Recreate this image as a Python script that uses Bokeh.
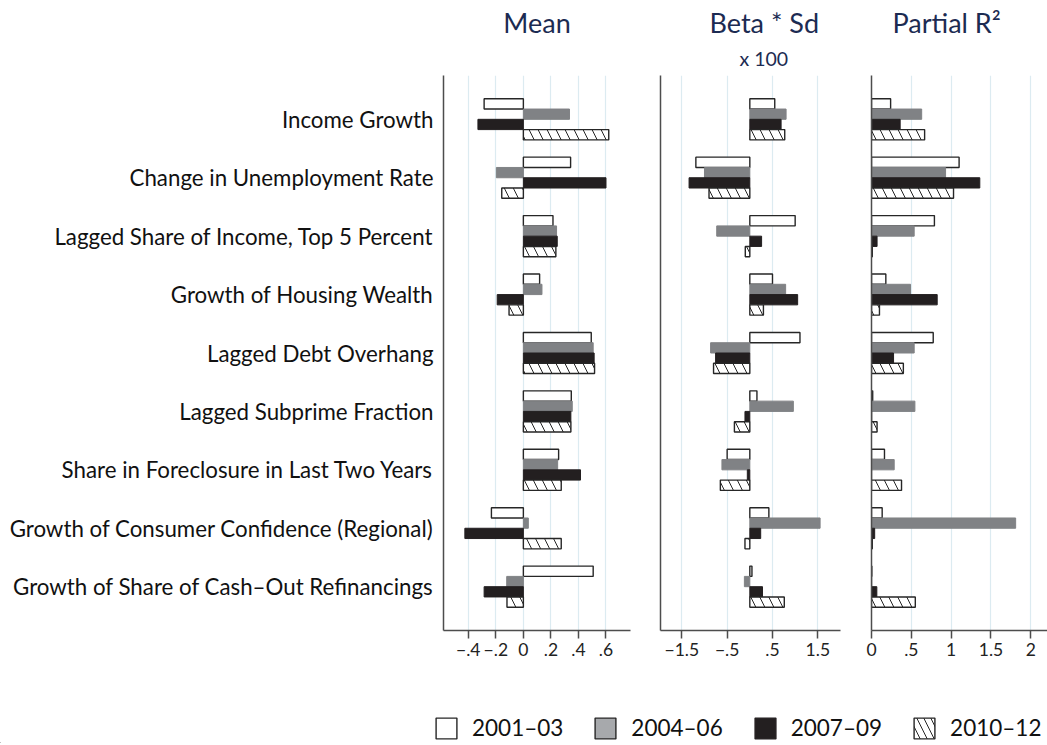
from bokeh.plotting import figure
from bokeh.layouts import column, row
from bokeh.models import (ColumnDataSource, FactorRange, Range1d, FixedTicker,
                          Title, Legend, LegendItem)
from bokeh.transform import dodge
from bokeh.embed import file_html
from bokeh.resources import INLINE

# ---------------- data ----------------
categories = [
    "Income Growth",
    "Change in Unemployment Rate",
    "Lagged Share of Income, Top 5 Percent",
    "Growth of Housing Wealth",
    "Lagged Debt Overhang",
    "Lagged Subprime Fraction",
    "Share in Foreclosure in Last Two Years",
    "Growth of Consumer Confidence (Regional)",
    "Growth of Share of Cash\u2013Out Refinancings",
]
periods = ["2001\u201303", "2004\u201306", "2007\u201309", "2010\u201312"]

mean_2001 = [-0.285, 0.343, 0.215, 0.118, 0.493, 0.348, 0.256, -0.232, 0.507]
mean_2004 = [0.335, -0.196, 0.241, 0.135, 0.507, 0.355, 0.249, 0.036, -0.121]
mean_2007 = [-0.330, 0.600, 0.246, -0.190, 0.514, 0.345, 0.415, -0.425, -0.285]
mean_2010 = [0.620, -0.157, 0.236, -0.104, 0.517, 0.345, 0.275, 0.275, -0.119]

beta_2001 = [0.55, -1.19, 1.00, 0.50, 1.106, 0.157, -0.50, 0.42, 0.047]
beta_2004 = [0.80, -1.00, -0.73, 0.79, -0.865, 0.96, -0.615, 1.55, -0.12]
beta_2007 = [0.69, -1.34, 0.26, 1.055, -0.755, -0.107, -0.055, 0.24, 0.28]
beta_2010 = [0.77, -0.90, -0.10, 0.30, -0.80, -0.34, -0.65, -0.107, 0.76]

r2_2001 = [0.24, 1.10, 0.79, 0.18, 0.775, 0.015, 0.163, 0.134, 0.004]
r2_2004 = [0.63, 0.93, 0.536, 0.49, 0.536, 0.545, 0.285, 1.81, 0.004]
r2_2007 = [0.36, 1.36, 0.07, 0.825, 0.277, 0.003, 0.002, 0.04, 0.067]
r2_2010 = [0.667, 1.03, 0.01, 0.10, 0.40, 0.07, 0.377, 0.01, 0.55]

mean_ticks = [-0.4, -0.2, 0, 0.2, 0.4, 0.6]
mean_tick_labels = ["\u2212.4", "\u2212.2", "0", ".2", ".4", ".6"]
beta_ticks = [-1.5, -0.5, 0.5, 1.5]
beta_tick_labels = ["\u22121.5", "\u2212.5", ".5", "1.5"]
r2_ticks = [0, 0.5, 1, 1.5, 2]
r2_tick_labels = ["0", ".5", "1", "1.5", "2"]

# ---------------- styles ----------------
FONT = "Lato"
TITLE_COLOR = "#1c2b52"
styles = [
    dict(fill_color="white", line_color="#262626", line_width=1.4),
    dict(fill_color="#808285", line_color="#808285", line_width=1),
    dict(fill_color="#231f20", line_color="#231f20", line_width=1),
    dict(fill_color="white", line_color="#262626", line_width=1.4,
         hatch_pattern="left_diagonal_line", hatch_color="#262626",
         hatch_scale=18, hatch_weight=1),
]
offsets = [0.264, 0.088, -0.088, -0.264]
BAR_H = 0.176
FIG_H = 680


def title_model(text, size, standoff, left_offset):
    kw = dict(text=text, text_font=FONT, text_font_size=size, text_font_style="normal",
              text_color=TITLE_COLOR, standoff=standoff)
    if left_offset is None:
        kw["align"] = "center"
    else:
        kw["align"] = "left"
        kw["offset"] = left_offset
    return Title(**kw)


def panel(series, xr, ticks, tick_labels, width, bl, br, title, title_left,
          sub, sub_left, show_cats):
    src = ColumnDataSource(dict(cat=categories, **{f"s{i}": s for i, s in enumerate(series)}))
    p = figure(y_range=FactorRange(factors=list(reversed(categories)),
                                   range_padding=0.25, range_padding_units="absolute"),
               x_range=Range1d(*xr), width=width, height=FIG_H,
               output_backend="svg", toolbar_location=None,
               min_border_left=bl, min_border_right=br,
               min_border_top=75, min_border_bottom=50)
    p.outline_line_color = None
    p.background_fill_color = "white"
    p.border_fill_color = "white"
    for i in range(4):
        p.hbar(y=dodge("cat", offsets[i], range=p.y_range), left=0, right=f"s{i}",
               height=BAR_H, source=src, **styles[i])
    # x axis
    p.xaxis.ticker = FixedTicker(ticks=ticks)
    p.xaxis.major_label_overrides = {t: l for t, l in zip(ticks, tick_labels)}
    p.xaxis.major_label_text_font = FONT
    p.xaxis.major_label_text_font_size = "17.5px"
    p.xaxis.major_label_text_color = "#222222"
    p.xaxis.axis_line_color = "#4d4d4d"
    p.xaxis.axis_line_width = 1.5
    p.xaxis.major_tick_line_color = "#4d4d4d"
    p.xaxis.major_tick_line_width = 1.5
    p.xaxis.major_tick_out = 8
    p.xaxis.major_tick_in = 0
    p.xaxis.minor_tick_line_color = None
    p.xaxis.major_label_standoff = 4
    # y axis
    p.yaxis.axis_line_color = "#4d4d4d"
    p.yaxis.axis_line_width = 1.5
    p.yaxis.major_tick_line_color = None
    p.yaxis.major_tick_out = 0
    p.yaxis.major_tick_in = 0
    p.yaxis.minor_tick_line_color = None
    if show_cats:
        p.yaxis.major_label_text_font = FONT
        p.yaxis.major_label_text_font_size = "22.3px"
        p.yaxis.major_label_text_color = "#111111"
        p.yaxis.major_label_standoff = 10
    else:
        p.yaxis.ticker = FixedTicker(ticks=[])
        p.yaxis.major_label_standoff = 0
    # grid
    p.xgrid.grid_line_color = "#dcebf1"
    p.xgrid.grid_line_width = 1.2
    p.ygrid.visible = False
    # titles: the first one added sits nearest the frame
    p.add_layout(title_model(sub, "19.5px", 12, sub_left), "above")
    p.add_layout(title_model(title, "27px", 0, title_left), "above")
    return p


p1 = panel([mean_2001, mean_2004, mean_2007, mean_2010], (-0.58, 0.778),
           mean_ticks, mean_tick_labels, 645, 443, 15, "Mean", None, " ", None, True)
p2 = panel([beta_2001, beta_2004, beta_2007, beta_2010], (-1.97, 2.0),
           beta_ticks, beta_tick_labels, 210, 15, 15, "Beta * Sd", 49, "x 100", 79, False)
p3 = panel([r2_2001, r2_2004, r2_2007, r2_2010], (0, 2.21),
           r2_ticks, r2_tick_labels, 192, 16, 0, "Partial R\u00b2", 21, " ", None, False)

# ---------------- legend strip ----------------
lg = figure(width=1047, height=63, output_backend="svg", toolbar_location=None,
            min_border=0, x_range=Range1d(0, 1), y_range=Range1d(0, 1))
lg.axis.visible = False
lg.grid.visible = False
lg.outline_line_color = None
legend_styles = [
    dict(fill_color="white", line_color="#262626", line_width=1.4),
    dict(fill_color="#a7a9ac", line_color="#262626", line_width=1.4),
    dict(fill_color="#231f20", line_color="#231f20", line_width=1.4),
    dict(fill_color="white", line_color="#262626", line_width=1.4,
         hatch_pattern="left_diagonal_line", hatch_color="#262626",
         hatch_scale=14, hatch_weight=1),
]
items = []
for lab, st in zip(periods, legend_styles):
    # placed outside the visible ranges; only the legend swatch is shown
    r = lg.hbar(y=[-50], left=[-50], right=[-49], height=0.1, **st)
    items.append(LegendItem(label=lab, renderers=[r]))
legend = Legend(items=items, orientation="horizontal", location=(433, 2),
                glyph_width=26, glyph_height=26, label_standoff=13, spacing=29,
                label_text_font=FONT, label_text_font_size="22.5px",
                label_text_color="#111111", padding=0, margin=0,
                border_line_color=None, background_fill_alpha=0)
lg.add_layout(legend, "center")

layout = column(row(p1, p2, p3), lg)
open("out.html", "w").write(file_html(layout, INLINE))
